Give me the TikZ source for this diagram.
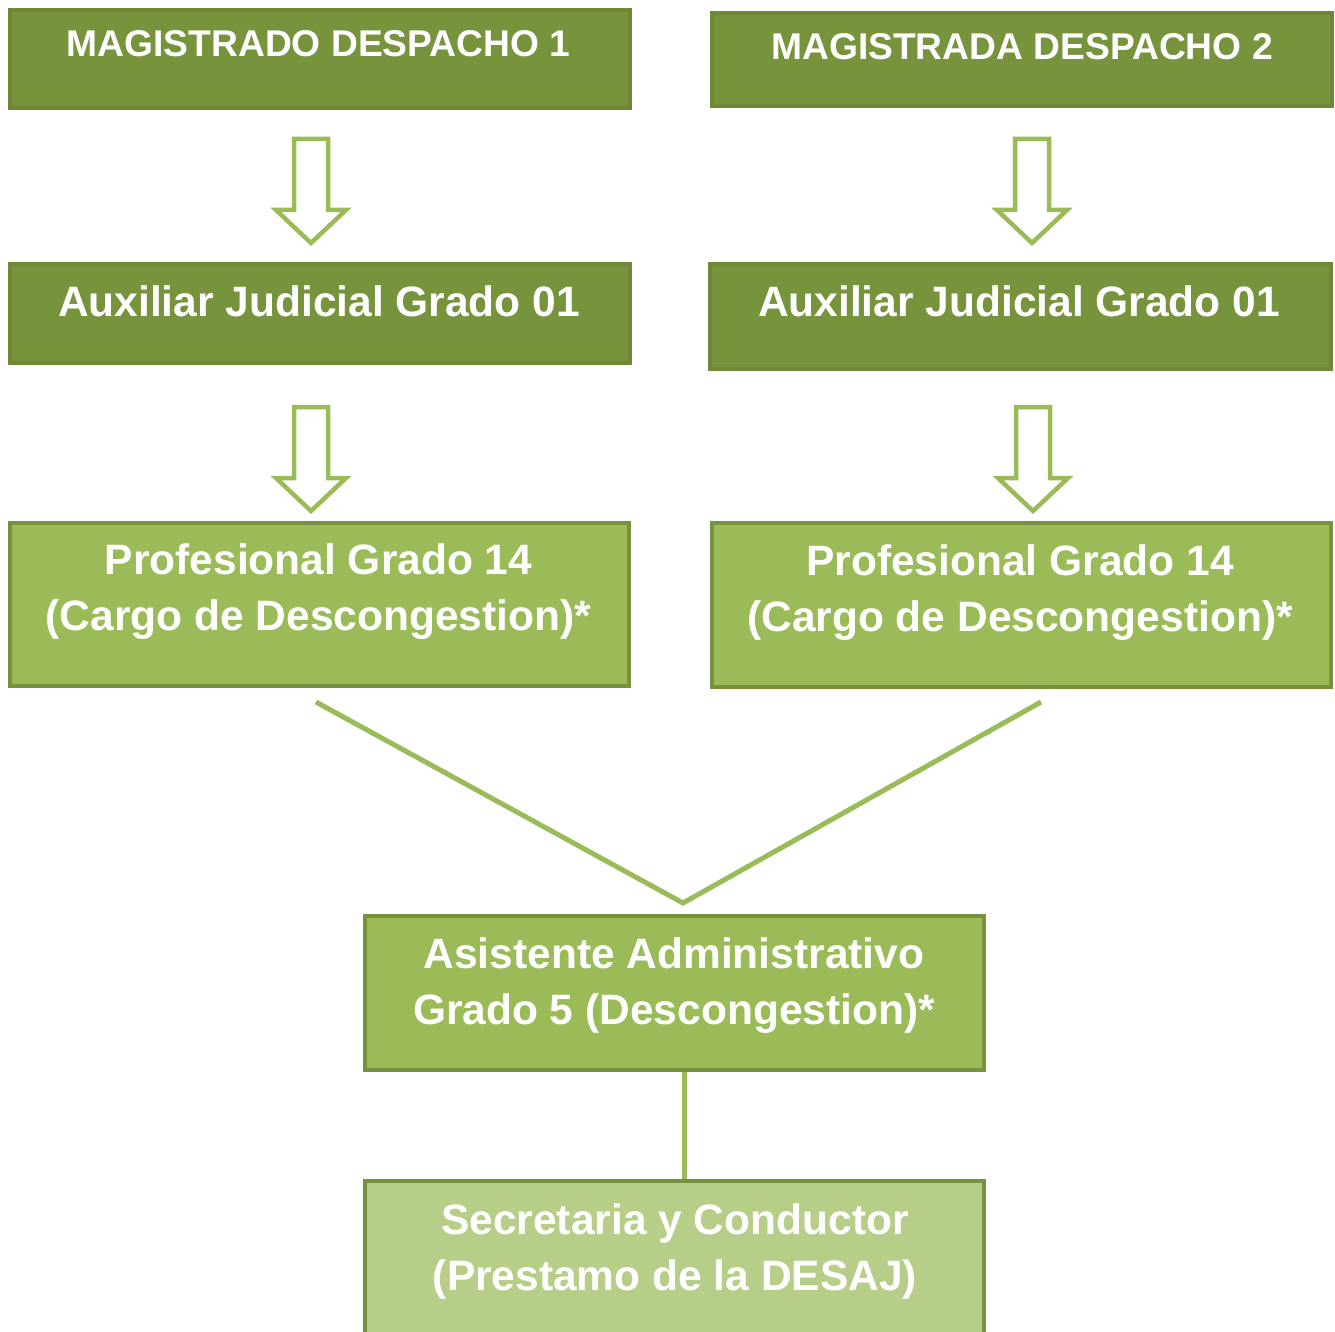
\documentclass[tikz,border=0pt]{standalone}
\usepackage{fontspec}
\setmainfont{Liberation Sans}
\definecolor{darkfill}{HTML}{77933C}
\definecolor{darkedge}{HTML}{6E8838}
\definecolor{midfill}{HTML}{9BBB59}
\definecolor{midedge}{HTML}{76923C}
\definecolor{lightfill}{HTML}{B7CE89}
\definecolor{linegreen}{HTML}{9BBB59}
\tikzset{
  boxbase/.style={rectangle, inner sep=0pt, line width=4pt},
  darkbox/.style={boxbase, fill=darkfill, draw=darkedge},
  midbox/.style={boxbase, fill=midfill, draw=midedge},
  lightbox/.style={boxbase, fill=lightfill, draw=midedge},
  boxtext/.style={text=white, font=\bfseries\fontsize{42.5}{56}\selectfont, align=center, inner sep=0pt},
  toptext/.style={text=white, font=\bfseries\fontsize{37.2}{44}\selectfont, inner sep=0pt, anchor=base},
  blockarrow/.style={draw=linegreen, fill=white, line width=4.5pt, line join=miter},
  joinline/.style={draw=linegreen, line width=5pt}
}
\newcommand{\downarrowblock}[3]{% x, top y, tip y
  \path[blockarrow] (#1-17,#2+2) -- (#1+17,#2+2) -- (#1+17,#3-36) -- (#1+35,#3-36)
     -- (#1,#3-3) -- (#1-35,#3-36) -- (#1-17,#3-36) -- cycle;}
\begin{document}
\begin{tikzpicture}[x=1pt,y=-1pt]
\path[use as bounding box] (0,0) rectangle (1335,1332);

% boxes
\node[darkbox, minimum width=620pt, minimum height=98pt] (m1) at (320,59) {};
\node[darkbox, minimum width=620pt, minimum height=93pt] (m2) at (1022,59.5) {};
\node[darkbox, minimum width=620pt, minimum height=99pt] (a1) at (320,313.5) {};
\node[darkbox, minimum width=621pt, minimum height=105pt] (a2) at (1020.5,316.5) {};
\node[midbox, minimum width=619pt, minimum height=163pt] (p1) at (319.5,604.5) {};
\node[midbox, minimum width=619pt, minimum height=164pt] (p2) at (1021.5,605) {};
\node[midbox, minimum width=619pt, minimum height=154pt] (as) at (674.5,993) {};
\node[lightbox, minimum width=619pt, minimum height=164pt] (se) at (674.5,1263) {};

% texts
\node[toptext] (t1) at (318.5,57) {MAGISTRADO DESPACHO 1};
\node[toptext] (t2) at (1022,60) {MAGISTRADA DESPACHO 2};
\node[boxtext, anchor=base] (t3) at (319,316) {Auxiliar Judicial Grado 01};
\node[boxtext, anchor=base] (t4) at (1019,316) {Auxiliar Judicial Grado 01};
\node[boxtext] (t5) at (318.5,592) {Profesional Grado 14\\(Cargo de Descongestion)*};
\node[boxtext] (t6) at (1020,593) {Profesional Grado 14\\(Cargo de Descongestion)*};
\node[boxtext] (t7) at (674,986) {Asistente Administrativo\\Grado 5 (Descongestion)*};
\node[boxtext] (t8) at (675,1251) {Secretaria y Conductor\\(Prestamo de la DESAJ)};

% block arrows
\downarrowblock{311}{137}{246}
\downarrowblock{1032}{137}{246}
\downarrowblock{311}{405}{514}
\downarrowblock{1033}{405}{514}

% joining lines
\coordinate (l1) at (316,702);
\coordinate (l2) at (1041,702);
\coordinate (apex) at (683,903);
\path[joinline] (l1) -- (apex) -- (l2);
\path (as.south) ++(9.5,0) coordinate (vs) (se.north) ++(9.5,0) coordinate (ve);
\path[joinline] (vs) -- (ve);
\end{tikzpicture}
\end{document}
